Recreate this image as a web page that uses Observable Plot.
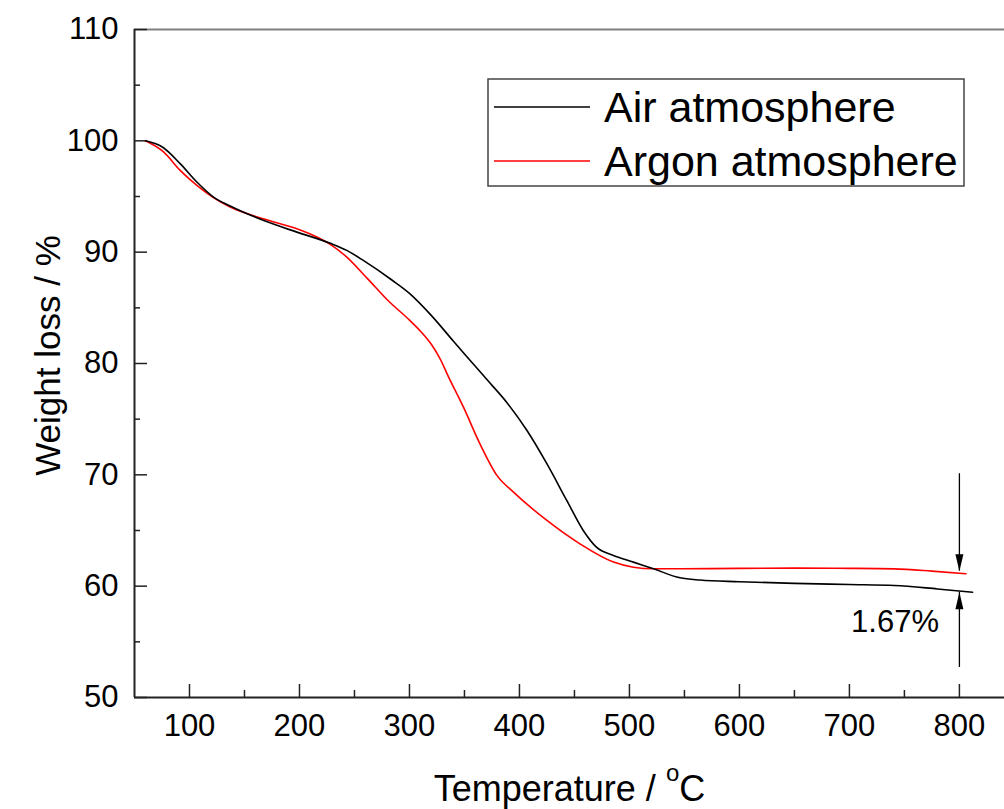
<!DOCTYPE html>
<html><head><meta charset="utf-8">
<script src="https://cdn.jsdelivr.net/npm/d3@7"></script>
<script src="https://cdn.jsdelivr.net/npm/@observablehq/plot@0.6"></script>
<style>
html,body{margin:0;padding:0;background:#fff;}
#wrap{position:relative;width:1004px;height:809px;font-family:"Liberation Sans",Arial,sans-serif;}
#wrap svg{display:block;}
#legend{position:absolute;left:0;top:0;pointer-events:none;}
</style></head><body><div id="wrap"></div>
<script>
// ---- data ----
const seriesNames = ["Air atmosphere", "Argon atmosphere"];
const seriesColors = ["#000000", "#ff0000"];

const airTemp   = [60, 76, 91.5, 106.7, 121.8, 137, 167, 197.6, 228, 243, 258, 284, 300, 320, 340, 355, 370, 388.5, 406.7, 424.9, 443, 458, 470, 485.5, 503.6, 521.8, 546, 564, 600, 650, 700, 741, 780, 812];
const airWeight = [100, 99.4, 97.95, 96.3, 94.95, 94.14, 92.86, 91.8, 90.8, 90.16, 89.26, 87.5, 86.3, 84.3, 82.0, 80.3, 78.6, 76.5, 74.0, 71.0, 67.7, 65.0, 63.5, 62.76, 62.16, 61.56, 60.75, 60.55, 60.4, 60.25, 60.15, 60.06, 59.75, 59.46];

const argonTemp   = [60, 76.4, 91.5, 106.7, 121.8, 137, 167, 197.6, 215.8, 228, 243, 262.7, 280, 300, 310, 320, 328, 335.5, 349, 364, 379.5, 394.6, 425, 455, 485.5, 503.6, 521.8, 546, 600, 650, 700, 741, 775, 806];
const argonWeight = [100, 99.0, 97.35, 96.0, 94.9, 94.05, 93.0, 92.1, 91.36, 90.7, 89.56, 87.53, 85.7, 83.9, 82.9, 81.7, 80.4, 78.8, 76.1, 72.8, 69.95, 68.45, 65.9, 63.8, 62.16, 61.7, 61.56, 61.56, 61.6, 61.62, 61.6, 61.55, 61.35, 61.12];

const xTicksMajor = [100, 200, 300, 400, 500, 600, 700, 800];
const xTicksMinor = [150, 250, 350, 450, 550, 650, 750];
const yTicksMajor = [50, 60, 70, 80, 90, 100, 110];
const yTicksMinor = [55, 65, 75, 85, 95, 105];

const arrowX = [800];
const arrowDown = [70.1, 61.35];   // from, to (weight %)
const arrowUp = [52.7, 59.45];     // from, to (weight %)
const noteText = ["1.67%"];
const notePos = [741.5, 55.85];    // temperature, weight

const xTitle = ["Temperature / oC"];
const yTitle = ["Weight loss / %"];

// ---- build ----
const W = 1004, H = 809, mL = 134, mT = 29, mB = 112, mR = 0;
const innerW = W - mL - mR, innerH = H - mT - mB;

const airData = airTemp.map((t, i) => ({t, w: airWeight[i], s: seriesNames[0]}));
const argonData = argonTemp.map((t, i) => ({t, w: argonWeight[i], s: seriesNames[1]}));

const headDown = {draw(ctx) { ctx.moveTo(0, 0); ctx.lineTo(-4, -17); ctx.lineTo(4, -17); ctx.closePath(); }};
const headUp = {draw(ctx) { ctx.moveTo(0, 0); ctx.lineTo(-4, 17); ctx.lineTo(4, 17); ctx.closePath(); }};

const axisColor = "#222";
const chart = Plot.plot({
  width: W, height: H,
  marginLeft: mL, marginTop: mT, marginBottom: mB, marginRight: mR,
  style: {fontFamily: '"Liberation Sans", Arial, sans-serif', color: "#000", background: "#fff"},
  x: {domain: [50, 841]},
  y: {domain: [50, 110]},
  color: {domain: seriesNames, range: seriesColors},
  marks: [
    Plot.ruleY([110], {stroke: "#808080", strokeWidth: 2}),
    Plot.ruleX([50], {stroke: axisColor, strokeWidth: 2}),
    Plot.ruleY([50], {stroke: axisColor, strokeWidth: 2}),
    Plot.ruleX(xTicksMajor, {insetTop: innerH - 13, stroke: axisColor, strokeWidth: 1.5}),
    Plot.ruleX(xTicksMinor, {insetTop: innerH - 7, stroke: axisColor, strokeWidth: 1.5}),
    Plot.ruleY(yTicksMajor, {insetRight: innerW - 13, stroke: axisColor, strokeWidth: 1.5}),
    Plot.ruleY(yTicksMinor, {insetRight: innerW - 6, stroke: axisColor, strokeWidth: 1.5}),
    Plot.axisX(xTicksMajor, {tickSize: 0, tickPadding: 16, fontSize: 31, label: null}),
    Plot.axisY(yTicksMajor, {tickSize: 0, tickPadding: 16, fontSize: 31, label: null}),
    Plot.line(argonData, {x: "t", y: "w", stroke: "s", strokeWidth: 1.6, curve: "monotone-x"}),
    Plot.line(airData, {x: "t", y: "w", stroke: "s", strokeWidth: 1.6, curve: "monotone-x"}),
    Plot.ruleX(arrowX, {y1: arrowDown[0], y2: arrowDown[1], stroke: "#000", strokeWidth: 1.3}),
    Plot.ruleX(arrowX, {y1: arrowUp[0], y2: arrowUp[1], stroke: "#000", strokeWidth: 1.3}),
    Plot.dot(arrowX, {x: d => d, y: arrowDown[1], symbol: headDown, fill: "#000", stroke: null}),
    Plot.dot(arrowX, {x: d => d, y: arrowUp[1], symbol: headUp, fill: "#000", stroke: null}),
    Plot.text(noteText, {x: notePos[0], y: notePos[1], text: d => d, fontSize: 31, textAnchor: "middle", lineAnchor: "bottom", fill: "#000"}),
    Plot.text(yTitle, {frameAnchor: "left", dx: -86, dy: -8, rotate: -90, textAnchor: "middle", lineAnchor: "middle", text: d => d, fontSize: 35, fill: "#000"}),
    Plot.text(xTitle, {frameAnchor: "bottom", dy: 103, textAnchor: "middle", lineAnchor: "bottom", text: d => d, fontSize: 36, fill: "#000"})
  ]
});
document.getElementById("wrap").appendChild(chart);

// superscript "o" in the x title
d3.select(chart).selectAll("text").each(function() {
  if (this.textContent === xTitle[0]) {
    const t = d3.select(this);
    t.text(null);
    t.append("tspan").text("Temperature / ");
    t.append("tspan").attr("font-size", 24).attr("dy", -20).text("o");
    t.append("tspan").attr("font-size", 36).attr("dy", 20).text("C");
  }
});

// legend inside the frame
const leg = d3.select("#wrap").append("svg").attr("id", "legend").attr("width", W).attr("height", H);
leg.append("rect").attr("x", 488).attr("y", 79).attr("width", 476).attr("height", 107)
  .attr("fill", "none").attr("stroke", "#444").attr("stroke-width", 1.5);
seriesNames.forEach((name, i) => {
  const cy = 107 + i * 54;
  leg.append("line").attr("x1", 494).attr("x2", 590).attr("y1", cy).attr("y2", cy)
    .attr("stroke", seriesColors[i]).attr("stroke-width", 1.6);
  leg.append("text").attr("x", 604).attr("y", cy + 15).attr("font-size", 43)
    .attr("font-family", '"Liberation Sans", Arial, sans-serif').attr("fill", "#000").text(name);
});
</script>
</body></html>
